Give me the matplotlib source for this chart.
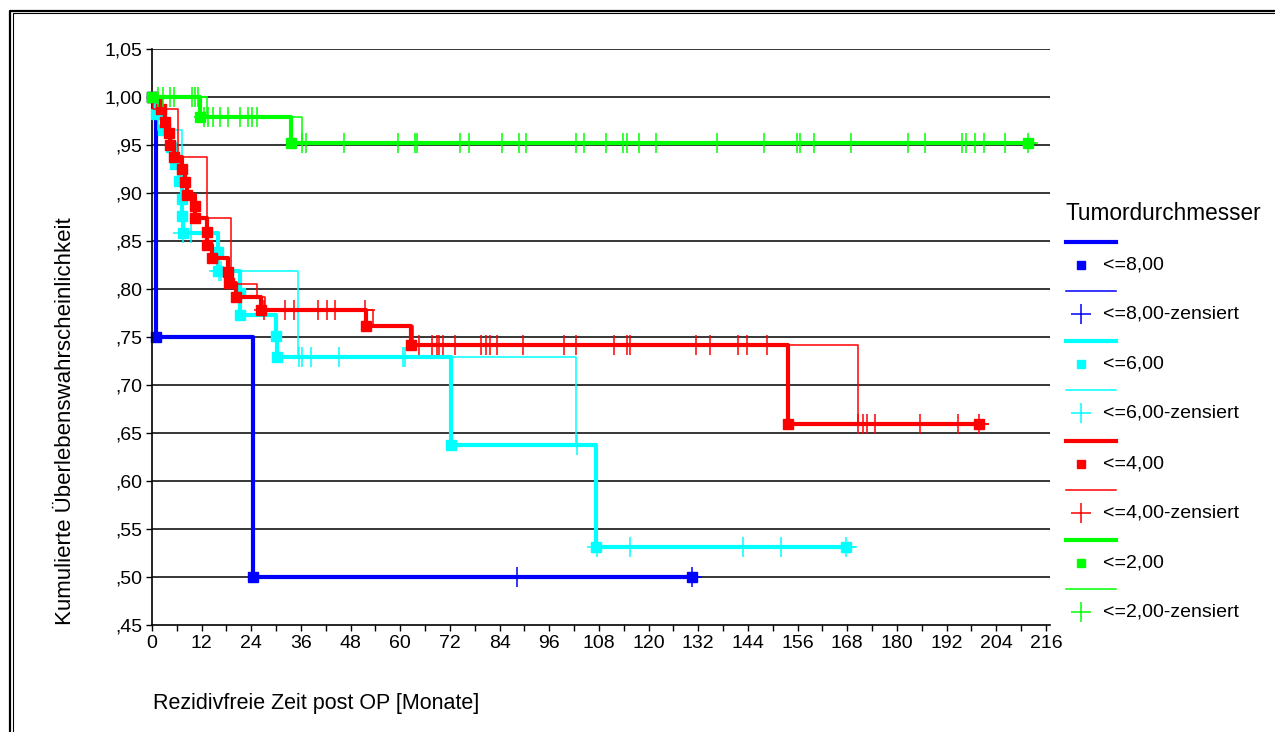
import matplotlib
matplotlib.use("Agg")
import matplotlib.pyplot as plt
import numpy as np

# Schrift wie im SPSS-Diagramm (Arial-Ersatz)
plt.rcParams["font.family"] = ["Liberation Sans", "DejaVu Sans"]

# ---------------- Daten ----------------
gruppen = ["<=8,00", "<=6,00", "<=4,00", "<=2,00"]
farben = ["#0000FF", "#00FFFF", "#FF0000", "#00FF00"]

# <=8,00
blau_t = [0, 1.0, 24.4]
blau_s = [1.0, 0.75, 0.50]
blau_ende = 130.5
blau_duenn_t = [0, 1.0, 24.4]
blau_duenn_s = [1.0, 0.75, 0.50]
blau_duenn_ende = 132.4
blau_zens = [88.3, 130.5]

# <=6,00
cyan_t = [0, 1.0, 2.7, 4.6, 5.6, 6.5, 7.2, 7.3, 7.4, 15.9, 16.0, 21.2, 21.3, 30.0, 30.1, 72.2, 107.4]
cyan_s = [1.0, 0.982, 0.966, 0.948, 0.930, 0.912, 0.894, 0.876, 0.858, 0.839, 0.819,
          0.796, 0.773, 0.751, 0.729, 0.637, 0.531]
cyan_ende = 167.8
cyan_duenn_t = [0, 1.5, 7.2, 16.0, 35.4, 102.4, 107.4]
cyan_duenn_s = [1.0, 0.966, 0.858, 0.819, 0.729, 0.637, 0.531]
cyan_duenn_ende = 170.0
cyan_zens = [7.6, 9.4, 16.1, 16.6, 35.5, 36.3, 38.4, 45.3, 60.6, 61.2, 102.6,
             107.5, 115.5, 142.9, 151.9, 167.8]

# <=4,00
rot_t = [0, 2.1, 3.1, 4.2, 4.3, 5.2, 7.2, 8.0, 8.4, 10.4, 10.5, 13.2, 13.3, 14.4,
         18.4, 18.5, 20.3, 26.3, 51.6, 62.7, 153.7]
rot_s = [1.0, 0.988, 0.974, 0.962, 0.950, 0.938, 0.925, 0.911, 0.898, 0.886, 0.874,
         0.859, 0.846, 0.832, 0.818, 0.806, 0.792, 0.778, 0.761, 0.742, 0.659]
rot_ende = 199.8
rot_duenn_t = [0, 0.3, 6.4, 13.2, 19.1, 25.3, 27.3, 53.5, 63.0, 170.7]
rot_duenn_s = [1.0, 0.988, 0.938, 0.874, 0.805, 0.792, 0.778, 0.761, 0.742, 0.659]
rot_duenn_ende = 202.0
rot_zens = [27.1, 32.1, 34.3, 40.2, 42.4, 44.2, 51.4, 64.6, 67.7, 68.8, 69.4, 70.2,
            73.2, 79.4, 80.6, 81.7, 83.4, 89.7, 99.5, 102.4, 111.6, 114.9, 115.5,
            131.4, 134.8, 141.7, 143.8, 148.7, 170.7, 171.9, 172.8, 174.7, 185.7,
            194.8, 199.9]

# <=2,00
gruen_t = [0, 11.6, 33.5]
gruen_s = [1.0, 0.979, 0.952]
gruen_ende = 211.8
gruen_duenn_t = [0, 13.2, 36.2]
gruen_duenn_s = [1.0, 0.979, 0.952]
gruen_duenn_ende = 213.3
gruen_zens = [1.5, 2.7, 4.3, 5.3, 9.6, 10.4, 11.2,
              12.6, 13.6, 14.7, 16.4, 18.4, 21.3, 23.3, 24.2, 25.3,
              36.2, 37.2, 46.4, 59.5, 63.5, 64.1, 74.4, 76.6, 84.6, 88.6, 90.4,
              102.4, 104.5, 109.7, 113.7, 114.7, 117.6, 121.7, 136.5, 147.9,
              155.8, 156.6, 159.9, 168.9, 182.7, 186.7, 195.8, 196.8, 198.8,
              201.0, 206.1, 211.8]

x_ticks = np.arange(0, 217, 12)
y_ticks = np.arange(0.45, 1.0501, 0.05)


def stufen(t, s, ende):
    return np.append(t, ende), np.append(s, s[-1])


def wert(t, s, tz):
    idx = np.searchsorted(np.array(t), np.array(tz), side="right") - 1
    return np.array(s)[idx]


fig = plt.figure(figsize=(12.75, 7.32), dpi=100)
ax = fig.add_axes([152 / 1275, 1 - 625 / 732, 898 / 1275, 576 / 732])
ax.set_xlim(0, 217)
ax.set_ylim(0.45, 1.05)

# horizontale Gitterlinien
for v in y_ticks[1:]:
    ax.axhline(v, color="black", lw=1.1, zorder=1)

daten = [
    (blau_t, blau_s, blau_ende, blau_duenn_t, blau_duenn_s, blau_duenn_ende, blau_zens),
    (cyan_t, cyan_s, cyan_ende, cyan_duenn_t, cyan_duenn_s, cyan_duenn_ende, cyan_zens),
    (rot_t, rot_s, rot_ende, rot_duenn_t, rot_duenn_s, rot_duenn_ende, rot_zens),
    (gruen_t, gruen_s, gruen_ende, gruen_duenn_t, gruen_duenn_s, gruen_duenn_ende, gruen_zens),
]

for i, (t, s, ende, td, sd, ended, zens) in enumerate(daten):
    c = farben[i]
    z = 2 + i
    xs, ys = stufen(td, sd, ended)
    ax.step(xs, ys, where="post", color=c, lw=1.1, zorder=z)
    xs, ys = stufen(t, s, ende)
    ax.step(xs, ys, where="post", color=c, lw=3.0, zorder=z)
    ax.plot(xs, ys, "s", color=c, ms=6.5, zorder=z, clip_on=False)
    ax.plot(zens, wert(t, s, zens), "+", color=c, ms=14, mew=1.1, zorder=z)

for side in ["top", "right"]:
    ax.spines[side].set_visible(False)
ax.spines["left"].set_linewidth(1.2)
ax.spines["bottom"].set_linewidth(1.2)

ax.set_xticks(x_ticks)
ax.set_xticklabels([str(v) for v in x_ticks])
ax.set_xticks(np.arange(0, 217, 6), minor=True)
ax.set_yticks(y_ticks)
ylab = []
for v in y_ticks:
    txt = "%.2f" % v
    txt = txt.replace(".", ",")
    if txt.startswith("0"):
        txt = txt[1:]
    ylab.append(txt)
ax.set_yticklabels(ylab)
ax.tick_params(which="both", direction="out", length=4, width=1, labelsize=14, pad=3)

fig.text(153 / 1275, 1 - 704 / 732, "Rezidivfreie Zeit post OP [Monate]",
         fontsize=15.5, ha="left", va="center")
fig.text(66 / 1275, 1 - 625 / 732, "Kumulierte Überlebenswahrscheinlichkeit",
         fontsize=16, rotation=90, ha="center", va="bottom")

# Legende und Rahmen in Pixelkoordinaten
lax = fig.add_axes([0, 0, 1, 1], zorder=-1)
lax.set_xlim(0, 1275)
lax.set_ylim(732, 0)
lax.axis("off")

lax.text(1066, 213, "Tumordurchmesser", fontsize=16.3, ha="left", va="center")
for i, name in enumerate(gruppen):
    y0 = 242 + i * 99.4
    c = farben[i]
    lax.plot([1066, 1116], [y0, y0], color=c, lw=3.0)
    lax.plot([1081], [y0 + 23], "s", color=c, ms=6)
    lax.text(1103, y0 + 23, name, fontsize=14, ha="left", va="center")
    lax.plot([1066, 1116], [y0 + 49, y0 + 49], color=c, lw=1.1)
    lax.plot([1081], [y0 + 72], "+", color=c, ms=14, mew=1.1)
    lax.text(1103, y0 + 72, name + "-zensiert", fontsize=14, ha="left", va="center")

lax.plot([9.5, 9.5, 1275], [732, 10.5, 10.5], color="black", lw=1.6)
lax.plot([13, 13, 1275], [732, 13.3, 13.3], color="black", lw=0.8)

fig.savefig("out.png", dpi=100)
